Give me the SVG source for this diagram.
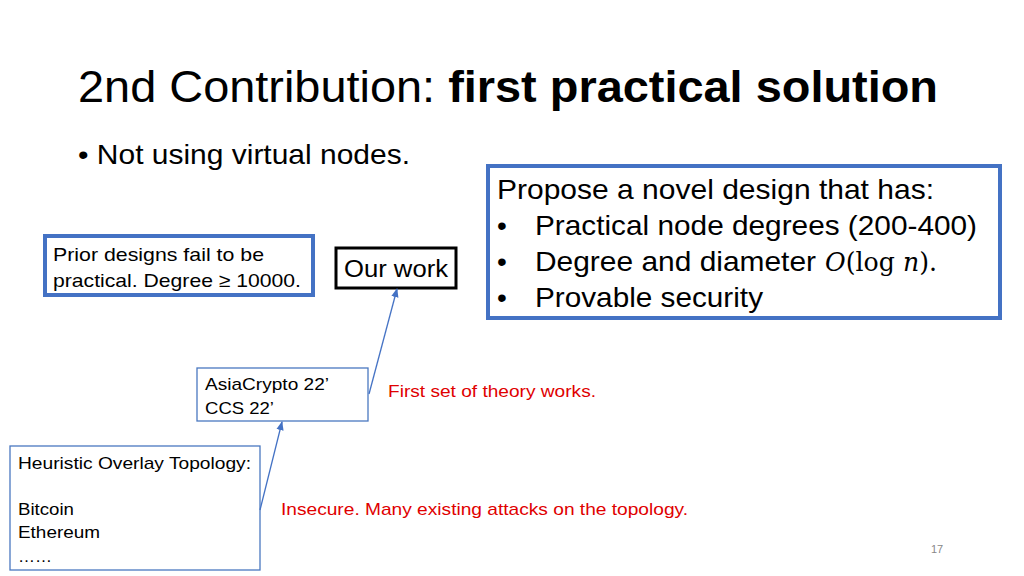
<svg xmlns="http://www.w3.org/2000/svg" width="1024" height="576" viewBox="0 0 1024 576">
<defs>
<style>
text{font-family:"Liberation Sans",Arial,sans-serif;fill:#000}
.math{font-family:"DejaVu Serif","Liberation Serif",serif}
.red{fill:#e00000;font-size:17px}
.thin{fill:#fff;stroke:#4a78c0;stroke-width:1.3}
.thick{fill:#fff;stroke:#4472c4;stroke-width:4}
</style>
<marker id="ah" viewBox="0 0 10 10" refX="9" refY="5" markerWidth="7" markerHeight="7" orient="auto"><path d="M0,1 L10,5 L0,9 z" fill="#4472c4"/></marker>
</defs>
<rect width="1024" height="576" fill="#fff"/>
<text x="78" y="102" font-size="45" textLength="860" lengthAdjust="spacingAndGlyphs">2nd Contribution: <tspan font-weight="bold">first practical solution</tspan></text>
<text x="78" y="164" font-size="28" textLength="332" lengthAdjust="spacingAndGlyphs">• Not using virtual nodes.</text>
<g id="propose"><rect class="thick" x="488" y="166" width="512" height="152"/>
<text x="497" y="199" font-size="28" textLength="437" lengthAdjust="spacingAndGlyphs">Propose a novel design that has:</text>
<text x="497" y="235" font-size="28">•</text><text x="535" y="235" font-size="28" textLength="442" lengthAdjust="spacingAndGlyphs">Practical node degrees (200-400)</text>
<text x="497" y="271" font-size="28">•</text><text x="535" y="271" font-size="28" textLength="281" lengthAdjust="spacingAndGlyphs">Degree and diameter</text><text class="math" x="825" y="271" font-size="26" textLength="112" lengthAdjust="spacingAndGlyphs"><tspan font-style="italic">O</tspan>(log <tspan font-style="italic">n</tspan>).</text>
<text x="497" y="307" font-size="28">•</text><text x="535" y="307" font-size="28" textLength="228" lengthAdjust="spacingAndGlyphs">Provable security</text></g>
<g id="prior"><rect class="thick" x="45" y="236" width="268" height="59"/>
<text x="53" y="261" font-size="19" textLength="211" lengthAdjust="spacingAndGlyphs">Prior designs fail to be</text>
<text x="53" y="287" font-size="19" textLength="248" lengthAdjust="spacingAndGlyphs">practical. Degree ≥ 10000.</text></g>
<g id="ourwork"><rect x="336" y="248" width="120" height="40" fill="#fff" stroke="#000" stroke-width="3"/>
<text x="344" y="277" font-size="23" textLength="104" lengthAdjust="spacingAndGlyphs">Our work</text></g>
<g id="asia"><rect class="thin" x="197" y="368" width="171" height="53"/>
<text x="205" y="390" font-size="17" textLength="124" lengthAdjust="spacingAndGlyphs">AsiaCrypto 22’</text>
<text x="205" y="414" font-size="17" textLength="69" lengthAdjust="spacingAndGlyphs">CCS 22’</text></g>
<g id="heur"><rect class="thin" x="10" y="446" width="250" height="124"/>
<text x="18" y="469" font-size="17" textLength="233" lengthAdjust="spacingAndGlyphs">Heuristic Overlay Topology:</text>
<text x="18" y="515" font-size="17" textLength="56" lengthAdjust="spacingAndGlyphs">Bitcoin</text>
<text x="18" y="538" font-size="17" textLength="82" lengthAdjust="spacingAndGlyphs">Ethereum</text>
<text x="18" y="562" font-size="17">……</text></g>
<g id="connectors" stroke="#4472c4" stroke-width="1.3" fill="none">
<line x1="369" y1="394" x2="397" y2="289" marker-end="url(#ah)"/>
<line x1="260" y1="510" x2="282" y2="422" marker-end="url(#ah)"/>
</g>
<text class="red" x="388" y="397" textLength="208" lengthAdjust="spacingAndGlyphs">First set of theory works.</text>
<text class="red" x="281" y="515" textLength="407" lengthAdjust="spacingAndGlyphs">Insecure. Many existing attacks on the topology.</text>
<text x="931" y="553" font-size="11" style="fill:#888">17</text>
</svg>
